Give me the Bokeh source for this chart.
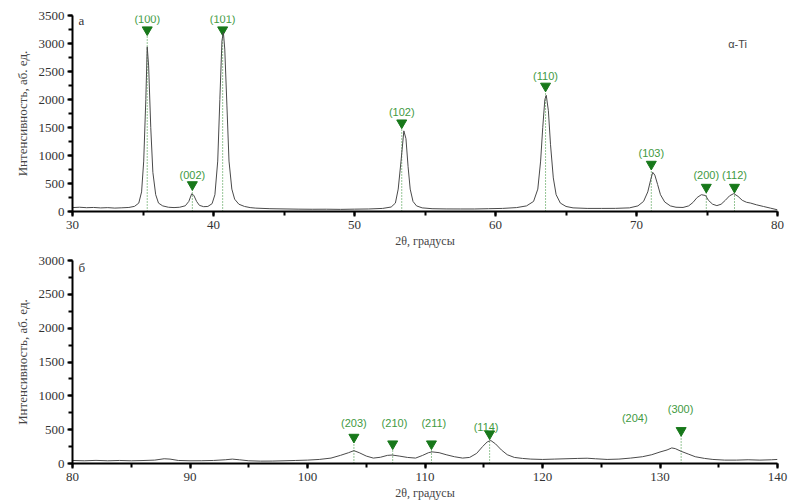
from bokeh.plotting import figure
from bokeh.layouts import column
from bokeh.models import Range1d, SingleIntervalTicker, Label
from bokeh.core.properties import value
from bokeh.embed import file_html
from bokeh.resources import INLINE

# ---------------- data: panel а (2θ 30–80) ----------------
a_x = [30.0, 30.5, 31.0, 31.5, 32.0, 32.5, 33.0, 33.5, 34.0, 34.4, 34.7, 34.9, 35.05, 35.2, 35.3, 35.4, 35.55,
       35.7, 35.9, 36.1, 36.4, 36.8, 37.2, 37.6, 38.0, 38.25, 38.45, 38.6, 38.8, 39.0, 39.3, 39.6, 39.9, 40.1,
       40.3, 40.45, 40.6, 40.7, 40.8, 40.95, 41.1, 41.3, 41.5, 41.8, 42.2, 42.6, 43.0, 44.0, 45.0, 46.0, 47.0,
       48.0, 49.0, 50.0, 51.0, 52.0, 52.6, 52.9, 53.1, 53.3, 53.5, 53.65, 53.8, 53.95, 54.15, 54.4, 54.8, 55.5,
       56.5, 57.5, 58.5, 59.5, 60.5, 61.5, 62.2, 62.7, 63.0, 63.2, 63.35, 63.5, 63.6, 63.75, 63.9, 64.1, 64.3,
       64.6, 65.0, 65.5, 66.5, 67.5, 68.5, 69.5, 70.1, 70.5, 70.8, 71.0, 71.15, 71.3, 71.5, 71.7, 72.0, 72.4,
       72.8, 73.3, 73.7, 74.0, 74.3, 74.6, 74.9, 75.1, 75.4, 75.7, 76.0, 76.3, 76.6, 76.9, 77.2, 77.5, 77.8,
       78.1, 78.5, 79.0, 79.5, 80.0]
a_y = [70, 76, 68, 72, 64, 69, 61, 66, 72, 92, 150, 350, 900, 2000, 2940, 2600, 1500,
       700, 300, 150, 100, 76, 70, 76, 102, 180, 315, 290, 180, 110, 86, 90, 140, 300,
       900, 2000, 3050, 3200, 2900, 1900, 900, 400, 220, 130, 90, 70, 60, 50, 46, 42, 40,
       41, 38, 42, 45, 55, 80, 150, 400, 900, 1440, 1300, 800, 400, 180, 100, 65, 50,
       46, 45, 45, 50, 55, 70, 100, 180, 400, 900, 1500, 2000, 2075, 1800, 1200, 600, 300,
       150, 90, 65, 55, 55, 56, 65, 100, 180, 350, 560, 700, 650, 480, 300, 170, 100,
       76, 72, 100, 160, 250, 300, 285, 200, 130, 105, 130, 200, 280, 320, 270, 200, 165,
       150, 120, 90, 60, 30]

a_peak_x = [35.3, 38.5, 40.65, 53.35, 63.55, 71.05, 74.95, 76.95]
a_marker_y = [3245, 480, 3245, 1583, 2240, 845, 434, 434]
a_labels = ["(100)", "(002)", "(101)", "(102)", "(110)", "(103)", "(200)", "(112)"]
a_label_x = [35.3, 38.5, 40.65, 53.35, 63.55, 71.05, 74.95, 76.95]
a_label_y = [3430, 656, 3430, 1782, 2427, 1038, 656, 656]

# ---------------- data: panel б (2θ 80–140) ----------------
b_x = [80, 81, 82, 83, 84, 85, 86, 87, 87.8, 88.3, 89, 90, 91, 92, 93, 93.6, 94.2, 95, 96, 97, 98, 99, 100,
       101, 102, 102.8, 103.5, 103.95, 104.4, 105, 105.6, 106.2, 106.8, 107.2, 107.8, 108.5, 109.2, 109.8,
       110.3, 110.6, 111.2, 111.8, 112.5, 113.2, 113.8, 114.4, 114.9, 115.3, 115.6, 116.0, 116.5, 117.0,
       117.6, 118.3, 119, 120, 121, 122, 123, 123.8, 124.5, 125.5, 126.5, 127.5, 128.5, 129.3, 130, 130.6,
       131, 131.3, 131.8, 132.4, 133, 133.8, 134.5, 135.5, 136.5, 137.5, 138.5, 139.5, 140]
b_y = [45, 40, 46, 40, 45, 40, 44, 50, 70, 65, 45, 40, 41, 45, 55, 65, 55, 40, 35, 36, 40, 45, 50,
       60, 80, 120, 160, 190, 160, 110, 80, 92, 120, 125, 110, 90, 80, 120,
       160, 172, 160, 130, 100, 80, 90, 150, 250, 320, 340, 290, 200, 130,
       90, 75, 65, 60, 65, 70, 75, 78, 70, 60, 65, 80, 100, 130, 170, 200,
       230, 220, 180, 140, 100, 75, 60, 50, 50, 55, 50, 55, 60]

b_peak_x = [103.95, 107.25, 110.55, 115.5, 131.8]
b_marker_y = [389, 291, 291, 439, 488]
b_labels = ["(203)", "(210)", "(211)", "(114)", "(204)", "(300)"]
b_label_x = [103.95, 107.4, 110.75, 115.2, 127.85, 131.75]
b_label_y = [601, 601, 601, 537, 675, 808]

GREEN_TXT = "#3f9a3f"
GREEN_MK = "#17781a"
SERIF = "Liberation Serif"
SANS = "Liberation Sans"


def style(p, xlabel, ylabel):
    p.outline_line_color = None
    p.xgrid.grid_line_color = None
    p.ygrid.grid_line_color = None
    p.background_fill_color = "white"
    p.border_fill_color = "white"
    for ax in (p.xaxis[0], p.yaxis[0]):
        ax.axis_line_width = 2
        ax.axis_line_color = "black"
        ax.major_tick_line_width = 2
        ax.major_tick_line_color = "black"
        ax.minor_tick_line_width = 2
        ax.minor_tick_line_color = "black"
        ax.major_tick_out = 5
        ax.major_tick_in = 0
        ax.minor_tick_out = 4
        ax.minor_tick_in = 0
        ax.major_label_text_font = SERIF
        ax.major_label_text_font_size = "13px"
        ax.major_label_text_color = "#333333"
        ax.axis_label_text_font = SERIF
        ax.axis_label_text_font_style = "normal"
        ax.axis_label_text_color = "#444444"
    p.xaxis.axis_label = xlabel
    p.yaxis.axis_label = ylabel
    p.xaxis.axis_label_text_font_size = "12px"
    p.yaxis.axis_label_text_font_size = "13px"
    p.xaxis.axis_label_standoff = 2
    p.yaxis.axis_label_standoff = 6
    p.xaxis.major_label_standoff = 4
    p.yaxis.major_label_standoff = 3
    p.xaxis.ticker = SingleIntervalTicker(interval=10, num_minor_ticks=2)
    p.yaxis.ticker = SingleIntervalTicker(interval=500, num_minor_ticks=2)


def annotate(p, px, my, lx, ly, labels):
    p.segment(x0=px, y0=[0] * len(px), x1=px, y1=my, line_color="#2e8b2e",
              line_width=1, line_dash="1 2")
    p.scatter(px, my, marker="inverted_triangle", size=10, color=GREEN_MK)
    p.text(lx, ly, text=labels, text_align="center", text_baseline="middle",
           text_font=value(SANS), text_font_size="11px", text_color=GREEN_TXT)


# ---------------- top panel ----------------
p1 = figure(width=790, height=250, output_backend="svg", toolbar_location=None,
            x_range=Range1d(30, 80), y_range=Range1d(0, 3500),
            min_border_left=72, min_border_right=13, min_border_top=15, min_border_bottom=36)
style(p1, "2θ, градусы", "Интенсивность, аб. ед.")
annotate(p1, a_peak_x, a_marker_y, a_label_x, a_label_y, a_labels)
p1.line(a_x, a_y, line_color="#4a4a4a", line_width=1)
p1.add_layout(Label(x=30, y=3500, x_offset=6, y_offset=-12, text="а", text_font=SERIF,
                    text_font_size="13px", text_color="#333333"))
p1.add_layout(Label(x=76.5, y=2880, text="α-Ti", text_font=SANS,
                    text_font_size="11px", text_color="#444444"))

# ---------------- bottom panel ----------------
p2 = figure(width=790, height=252, output_backend="svg", toolbar_location=None,
            x_range=Range1d(80, 140), y_range=Range1d(0, 3000),
            min_border_left=68, min_border_right=11, min_border_top=10, min_border_bottom=39)
style(p2, "2θ, градусы", "Интенсивность, аб. ед.")
annotate(p2, b_peak_x, b_marker_y, b_label_x, b_label_y, b_labels)
p2.line(b_x, b_y, line_color="#4a4a4a", line_width=1)
p2.add_layout(Label(x=80, y=3000, x_offset=6, y_offset=-14, text="б", text_font=SERIF,
                    text_font_size="13px", text_color="#333333"))

layout = column(p1, p2, spacing=0)
open("out.html", "w").write(file_html(layout, INLINE))
